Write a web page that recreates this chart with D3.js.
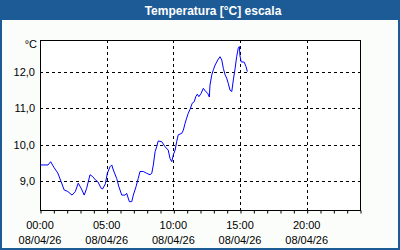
<!DOCTYPE html>
<html>
<head>
<meta charset="utf-8">
<script src="https://cdn.jsdelivr.net/npm/d3@7"></script>
<style>
  body { margin: 0; background: #fbfdfb; }
  text { font-family: "Liberation Sans", Arial, sans-serif; }
</style>
</head>
<body>
<div class="chart"></div>
<script>
var svgWidth = 400;
var svgHeight = 250;

var margin = { top: 40, right: 40, bottom: 40, left: 40 };
var width = svgWidth - margin.left - margin.right;
var height = svgHeight - margin.top - margin.bottom;

var title = "Temperatura [°C] escala";
var unitLabel = "°C";

// minutes since 00:00 on 08/04/26
var minutes = [0, 36, 48, 64, 80, 95, 109, 125, 144, 159, 172, 185, 199, 210, 225, 237, 249, 260,
  275, 282, 294, 303, 315, 323, 330, 345, 355, 368, 383, 390, 402, 413, 420, 432, 442, 450, 465,
  480, 495, 503, 510, 518, 525, 532, 548, 563, 577, 585, 593, 600, 608, 615, 622, 638, 645, 653,
  660, 667, 675, 685, 694, 701, 708, 715, 725, 735, 746, 755, 762, 765, 773, 780, 788, 800, 810,
  818, 825, 833, 840, 847, 855, 863, 870, 878, 885, 892, 897, 900, 905, 919, 927, 933];
var temps = [9.44, 9.44, 9.53, 9.36, 9.22, 8.98, 8.75, 8.71, 8.61, 8.71, 8.94, 8.80, 8.61, 8.80, 9.17, 9.12, 9.03, 8.98,
  8.80, 8.78, 8.92, 9.21, 9.39, 9.44, 9.30, 9.07, 8.84, 8.61, 8.61, 8.66, 8.43, 8.43, 8.61, 8.84, 9.07, 9.26, 9.26,
  9.21, 9.17, 9.21, 9.44, 9.81, 9.94, 10.10, 10.08, 9.94, 9.85, 9.62, 9.53, 9.72, 9.85, 10.08, 10.27, 10.31, 10.40, 10.59,
  10.73, 10.86, 10.97, 11.14, 11.18, 11.32, 11.39, 11.32, 11.41, 11.55, 11.46, 11.41, 11.31, 11.64, 11.92, 12.06, 12.19, 12.33, 12.42,
  12.33, 12.10, 11.92, 11.83, 11.69, 11.50, 11.46, 11.78, 12.10, 12.42, 12.65, 12.70, 12.44, 12.28, 12.27, 12.15, 12.01];

var yTicks = [9, 10, 11, 12];
var xTicks = [0, 300, 600, 900, 1200];
var xTimeLabels = ["00:00", "05:00", "10:00", "15:00", "20:00"];
var xDateLabels = ["08/04/26", "08/04/26", "08/04/26", "08/04/26", "08/04/26"];
var hourTicks = d3.range(0, 1441, 60);

var svg = d3.select(".chart")
  .append("svg")
  .attr("width", svgWidth)
  .attr("height", svgHeight);

// title bar
svg.append("rect")
  .attr("x", 0).attr("y", 0)
  .attr("width", svgWidth).attr("height", 20)
  .attr("fill", "#1c5b96");

svg.append("text")
  .attr("x", 213).attr("y", 15)
  .attr("text-anchor", "middle")
  .attr("fill", "#ffffff")
  .attr("font-weight", "bold")
  .attr("font-size", "12px")
  .text(title);

// outer frame
svg.append("rect")
  .attr("x", 1).attr("y", 1)
  .attr("width", svgWidth - 2).attr("height", svgHeight - 2)
  .attr("fill", "none")
  .attr("stroke", "#1c5b96")
  .attr("stroke-width", 2);

var chartGroup = svg.append("g")
  .attr("transform", `translate(${margin.left}, ${margin.top})`);

var xScale = d3.scaleLinear().domain([0, 1440]).range([0, width]);
var yScale = d3.scaleLinear().domain([8.2, 12.88]).range([height, 0]);

chartGroup.append("rect")
  .attr("width", width).attr("height", height)
  .attr("fill", "#ffffff");

// grid
chartGroup.selectAll(".hgrid")
  .data(yTicks)
  .enter()
  .append("line")
  .attr("x1", 0).attr("x2", width)
  .attr("y1", d => Math.round(yScale(d)) + 0.5)
  .attr("y2", d => Math.round(yScale(d)) + 0.5)
  .attr("stroke", "#000")
  .attr("stroke-dasharray", "3,3");

chartGroup.selectAll(".vgrid")
  .data(xTicks)
  .enter()
  .append("line")
  .attr("x1", d => Math.round(xScale(d)) + 0.5)
  .attr("x2", d => Math.round(xScale(d)) + 0.5)
  .attr("y1", 0).attr("y2", height)
  .attr("stroke", "#000")
  .attr("stroke-dasharray", "3,3");

// hour ticks on the bottom axis
var bottomAxis = d3.axisBottom(xScale)
  .tickValues(hourTicks)
  .tickSize(3)
  .tickSizeOuter(0)
  .tickFormat("");

chartGroup.append("g")
  .attr("transform", `translate(0.5, ${height + 0.5})`)
  .call(bottomAxis)
  .call(g => g.select(".domain").remove());

// x labels
var xLabels = chartGroup.selectAll(".xlab")
  .data(xTicks)
  .enter()
  .append("g")
  .attr("transform", d => `translate(${xScale(d)}, ${height})`);

xLabels.append("text")
  .attr("y", 19)
  .attr("text-anchor", "middle")
  .attr("font-size", "11px")
  .attr("fill", "#000")
  .text((d, i) => xTimeLabels[i]);

xLabels.append("text")
  .attr("y", 34)
  .attr("text-anchor", "middle")
  .attr("font-size", "11px")
  .attr("fill", "#000")
  .text((d, i) => xDateLabels[i]);

// y labels
chartGroup.selectAll(".ylab")
  .data(yTicks)
  .enter()
  .append("text")
  .attr("x", -5)
  .attr("y", d => yScale(d) + 4)
  .attr("text-anchor", "end")
  .attr("font-size", "11px")
  .attr("fill", "#000")
  .text(d => d3.format(".1f")(d).replace(".", ","));

chartGroup.append("text")
  .attr("x", -3).attr("y", 8)
  .attr("text-anchor", "end")
  .attr("font-size", "11px")
  .attr("fill", "#000")
  .text(unitLabel);

// frame of the plot
chartGroup.append("rect")
  .attr("x", 0.5).attr("y", 0.5)
  .attr("width", width).attr("height", height)
  .attr("fill", "none")
  .attr("stroke", "#000");

// the series
var points = minutes.map((m, i) => [m, temps[i]]);
var line = d3.line()
  .x(d => xScale(d[0]))
  .y(d => yScale(d[1]));

chartGroup.append("path")
  .datum(points)
  .attr("d", line)
  .attr("fill", "none")
  .attr("stroke", "#0000ff")
  .attr("stroke-width", 1);
</script>
</body>
</html>
